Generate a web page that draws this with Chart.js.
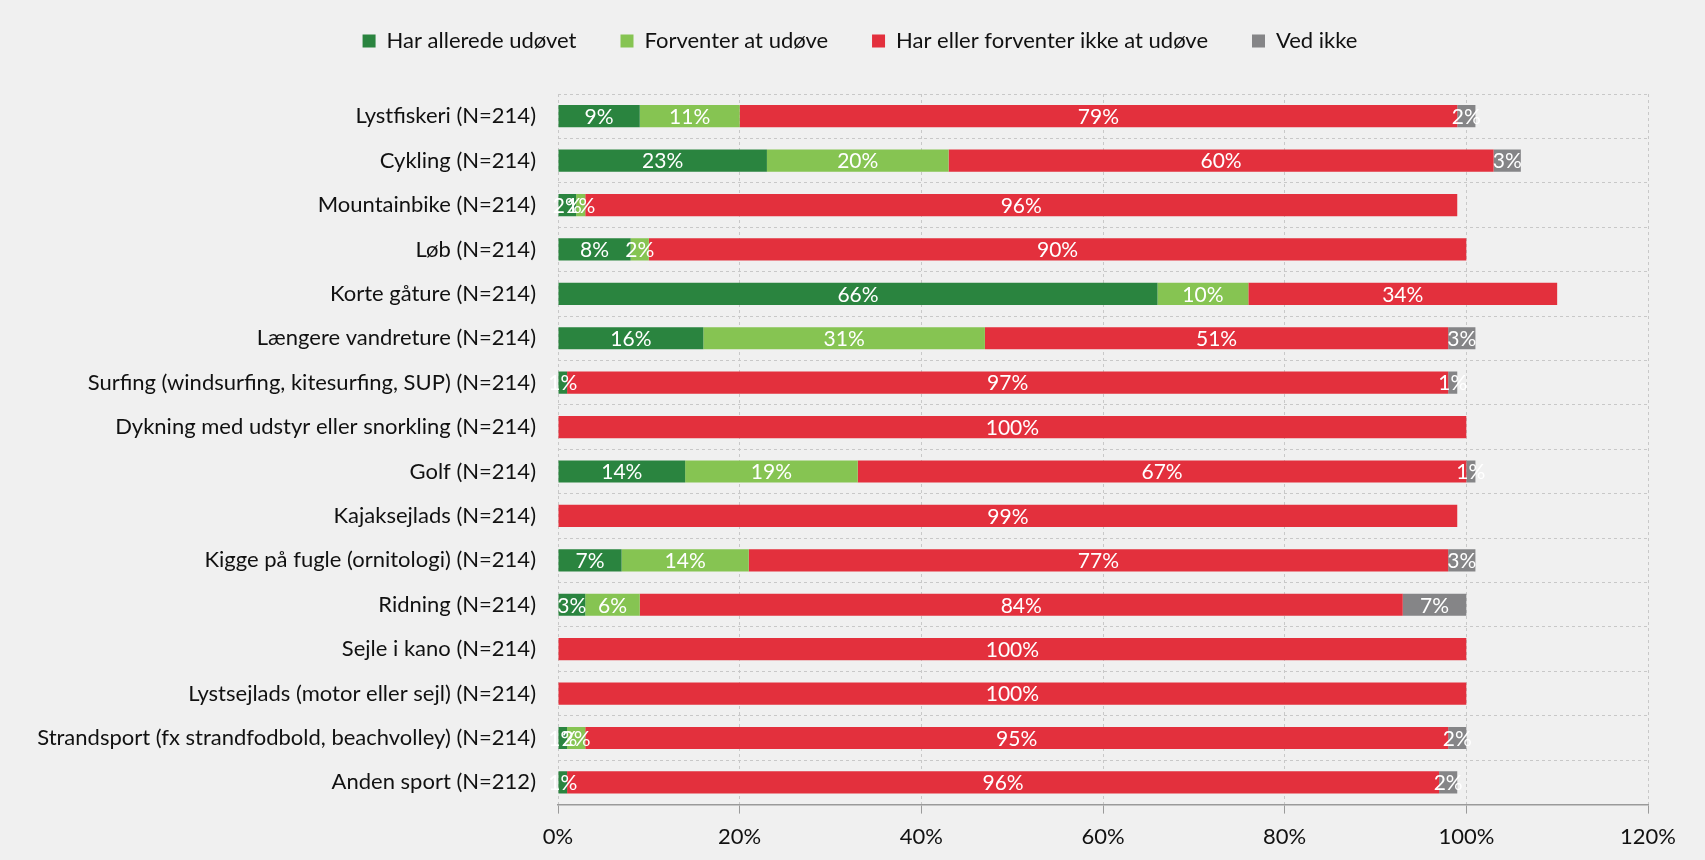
<!DOCTYPE html>
<html>
<head>
<meta charset="utf-8">
<script src="https://cdn.jsdelivr.net/npm/chart.js@4.4.0/dist/chart.umd.min.js"></script>
<style>
  html, body { margin: 0; padding: 0; background: #f0f0f0; }
</style>
</head>
<body>
<canvas id="myChart" width="1705" height="860"></canvas>
<script>
// Categories (y axis)
var categories = [
  'Lystfiskeri (N=214)',
  'Cykling (N=214)',
  'Mountainbike (N=214)',
  'Løb (N=214)',
  'Korte gåture (N=214)',
  'Længere vandreture (N=214)',
  'Surfing (windsurfing, kitesurfing, SUP) (N=214)',
  'Dykning med udstyr eller snorkling (N=214)',
  'Golf (N=214)',
  'Kajaksejlads (N=214)',
  'Kigge på fugle (ornitologi) (N=214)',
  'Ridning (N=214)',
  'Sejle i kano (N=214)',
  'Lystsejlads (motor eller sejl) (N=214)',
  'Strandsport (fx strandfodbold, beachvolley) (N=214)',
  'Anden sport (N=212)'
];

// Series values in percent
var harAllerede   = [9, 23, 2, 8, 66, 16, 1, 0, 14, 0, 7, 3, 0, 0, 1, 1];
var forventer     = [11, 20, 1, 2, 10, 31, 0, 0, 19, 0, 14, 6, 0, 0, 2, 0];
var forventerIkke = [79, 60, 96, 90, 34, 51, 97, 100, 67, 99, 77, 84, 100, 100, 95, 96];
var vedIkke       = [2, 3, 0, 0, 0, 3, 1, 0, 1, 0, 3, 7, 0, 0, 2, 2];

// x axis ticks
var xTicks = [0, 20, 40, 60, 80, 100, 120];

var FONT = 'Lato, "Open Sans", sans-serif';

// white value labels in the middle of each segment
var barLabels = {
  id: 'barLabels',
  afterDatasetsDraw: function(chart) {
    var ctx = chart.ctx;
    ctx.save();
    ctx.fillStyle = '#ffffff';
    ctx.font = '21px ' + FONT;
    ctx.textAlign = 'center';
    ctx.textBaseline = 'middle';
    chart.data.datasets.forEach(function(ds, i) {
      var meta = chart.getDatasetMeta(i);
      meta.data.forEach(function(bar, j) {
        var v = ds.data[j];
        if (!v) return;
        ctx.fillText(v + '%', (bar.x + bar.base) / 2, bar.y + 1);
      });
    });
    ctx.restore();
  }
};

// move the legend up and a bit right, like in the original
var legendShift = {
  id: 'legendShift',
  afterLayout: function(chart) {
    var lg = chart.legend;
    if (!lg) return;
    lg.top -= 32;
    lg.bottom -= 32;
    lg.left += 36;
    lg.right += 36;
  }
};

var ctx = document.getElementById('myChart').getContext('2d');
var myChart = new Chart(ctx, {
  type: 'bar',
  data: {
    labels: categories,
    datasets: [
      { label: 'Har allerede udøvet', data: harAllerede, backgroundColor: '#2a843f' },
      { label: 'Forventer at udøve', data: forventer, backgroundColor: '#86c452' },
      { label: 'Har eller forventer ikke at udøve', data: forventerIkke, backgroundColor: '#e3303d' },
      { label: 'Ved ikke', data: vedIkke, backgroundColor: '#858587' }
    ]
  },
  options: {
    indexAxis: 'y',
    responsive: false,
    animation: false,
    barPercentage: 0.5,
    categoryPercentage: 1,
    layout: { padding: { top: 18, right: 57, bottom: 0, left: 0 } },
    plugins: {
      legend: {
        position: 'top',
        labels: {
          boxWidth: 13,
          boxHeight: 13,
          padding: 44,
          color: '#111',
          font: { family: FONT, size: 22 }
        }
      },
      tooltip: { enabled: false }
    },
    scales: {
      x: {
        stacked: true,
        min: 0,
        max: 120,
        afterBuildTicks: function(scale) {
          scale.ticks = xTicks.map(function(v) { return { value: v }; });
        },
        ticks: {
          padding: 10,
          color: '#111',
          font: { family: FONT, size: 22 },
          callback: function(v) { return v + '%'; }
        },
        grid: {
          color: '#c8c8c8',
          drawTicks: true,
          tickLength: 9,
          tickColor: '#9a9a9a',
          tickBorderDash: []
        },
        border: { display: true, color: '#9a9a9a', width: 1.5, dash: [3, 3] }
      },
      y: {
        stacked: true,
        afterFit: function(scale) { scale.width = 558; },
        ticks: {
          padding: 22,
          color: '#111',
          font: { family: FONT, size: 22 }
        },
        grid: {
          color: '#c8c8c8',
          drawTicks: false,
          offset: true
        },
        border: { display: false, dash: [3, 3] }
      }
    }
  },
  plugins: [barLabels, legendShift]
});
</script>
</body>
</html>
